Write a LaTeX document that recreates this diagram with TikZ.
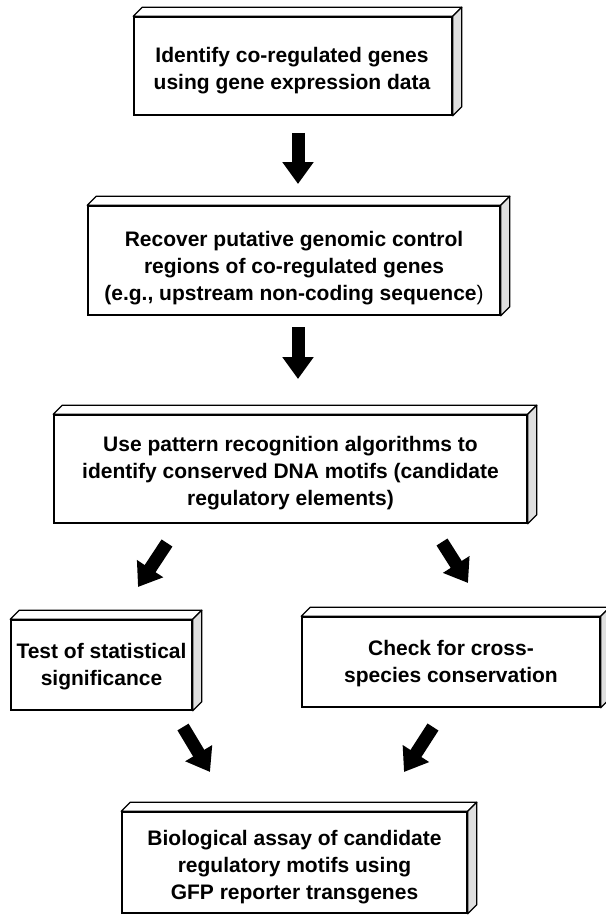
\documentclass[tikz,border=0pt]{standalone}
\usepackage{fontspec}
\setmainfont{Liberation Sans}
\usetikzlibrary{arrows.meta,calc}
\tikzset{
  stepbox/.style={draw, line width=1.5pt, fill=white, inner sep=0pt},
  steptext/.style={inner sep=0pt, align=center,
    font=\fontsize{21}{27}\selectfont\bfseries},
  face/.style={draw=black, line width=1.3pt, line join=round},
  bigarrow/.style={line width=13pt, -{Triangle[width=30pt,length=22pt]}}
}
\newcommand\drawdepth[1]{%
  \filldraw[face, fill=white] (#1.north west) -- ++(9,-9) -- ($(#1.north east)+(9,-9)$) -- (#1.north east) -- cycle;
  \filldraw[face, fill=gray!25] (#1.north east) -- ++(9,-9) -- ($(#1.south east)+(9,-9)$) -- (#1.south east) -- cycle;
}
\begin{document}
\begin{tikzpicture}[x=1pt,y=-1pt]
\useasboundingbox (0,0) rectangle (605,915);
\fill[white] (0,0) rectangle (605,915);

\node[stepbox, minimum width=318pt, minimum height=98pt] (b1) at (293,66) {};
\drawdepth{b1}
\node[steptext] (t1) at ($(b1.center)+(-1,5)$)
  {Identify co-regulated genes\\using gene expression data};

\node[stepbox, minimum width=412pt, minimum height=109pt] (b2) at (294,260.5) {};
\drawdepth{b2}
\node[steptext] (t2) at ($(b2.center)+(0,8)$)
  {Recover putative genomic control\\regions of co-regulated genes\\(e.g., upstream non-coding sequence{\mdseries)}};

\node[stepbox, minimum width=473pt, minimum height=108pt] (b3) at (290.5,469) {};
\drawdepth{b3}
\node[steptext] (t3) at ($(b3.center)+(0,4)$)
  {Use pattern recognition algorithms to\\identify conserved DNA motifs (candidate\\regulatory elements)};

\node[stepbox, minimum width=181pt, minimum height=90pt] (b4) at (101.5,665) {};
\drawdepth{b4}
\node[steptext] (t4) at ($(b4.center)+(0,2)$)
  {Test of statistical\\significance};

\node[stepbox, minimum width=298pt, minimum height=90pt] (b5) at (451,662) {};
\drawdepth{b5}
\node[steptext] (t5) at ($(b5.center)+(0,2)$)
  {Check for cross-\\species conservation};

\node[stepbox, minimum width=345pt, minimum height=101pt] (b6) at (294.5,862.5) {};
\drawdepth{b6}
\node[steptext] (t6) at ($(b6.center)+(0,5)$)
  {Biological assay of candidate\\regulatory motifs using\\GFP reporter transgenes};

\coordinate (a1s) at (298,133); \coordinate (a1e) at (298,184);
\coordinate (a2s) at (298,327); \coordinate (a2e) at (298,379);
\coordinate (a3s) at (167,543); \coordinate (a3e) at (138,587);
\coordinate (a4s) at (442,542); \coordinate (a4e) at (468,583);
\coordinate (a5s) at (183,727); \coordinate (a5e) at (210,772);
\coordinate (a6s) at (433,727); \coordinate (a6e) at (404,772);

\draw[bigarrow] (a1s) -- (a1e);
\draw[bigarrow] (a2s) -- (a2e);
\draw[bigarrow] (a3s) -- (a3e);
\draw[bigarrow] (a4s) -- (a4e);
\draw[bigarrow] (a5s) -- (a5e);
\draw[bigarrow] (a6s) -- (a6e);
\end{tikzpicture}
\end{document}
